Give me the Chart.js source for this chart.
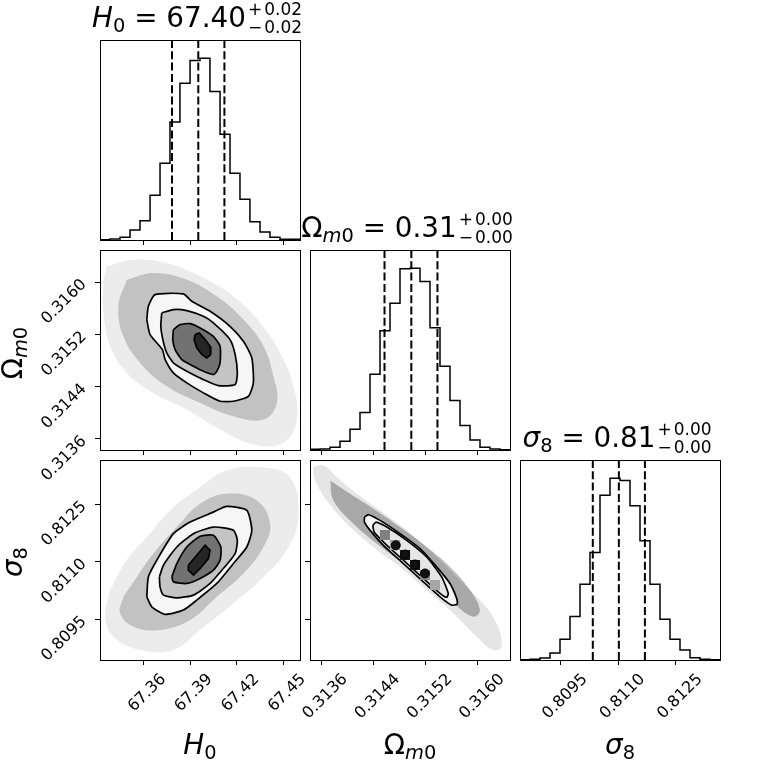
<!DOCTYPE html>
<html>
<head>
<meta charset="utf-8">
<script src="https://cdn.jsdelivr.net/npm/chart.js@4.4.1/dist/chart.umd.min.js"></script>
<style>
  html, body { margin:0; padding:0; background:#fff; }
  #fig { position:relative; width:760px; height:760px; overflow:hidden; background:#fff; }
  .pane { position:absolute; width:290px; height:300px; }
  .txt { position:absolute; font-family:"DejaVu Sans", sans-serif; font-size:27.8px; line-height:1.164; color:#000; white-space:nowrap; text-align:center; width:400px; }
  .txt i { font-style:italic; }
  .sb { font-size:0.7em; vertical-align:-0.28em; }
  .ss { position:relative; display:inline-block; width:62px; height:0; font-size:17px; line-height:1; text-align:left; }
  .ss > span { position:absolute; left:2px; }
  .ss .up { bottom:9px; }
  .ss .dn { bottom:-8.6px; }
  .op { margin-right:2px; }
  .ylab { transform:rotate(-90deg); }
</style>
</head>
<body>
<div id="fig">
  <div class="pane" id="p00"><canvas id="c00" width="290" height="300"></canvas></div>
  <div class="pane" id="p10"><canvas id="c10" width="290" height="300"></canvas></div>
  <div class="pane" id="p11"><canvas id="c11" width="290" height="300"></canvas></div>
  <div class="pane" id="p20"><canvas id="c20" width="290" height="300"></canvas></div>
  <div class="pane" id="p21"><canvas id="c21" width="290" height="300"></canvas></div>
  <div class="pane" id="p22"><canvas id="c22" width="290" height="300"></canvas></div>

  <div class="txt" style="left:0px;top:2.2px"><i>H</i><span class="sb">0</span> = 67.40<span class="ss"><span class="up"><span class="op">+</span>0.02</span><span class="dn"><span class="op">−</span>0.02</span></span></div>
  <div class="txt" style="left:210px;top:212.2px">Ω<span class="sb"><i>m</i>0</span> = 0.31<span class="ss"><span class="up"><span class="op">+</span>0.00</span><span class="dn"><span class="op">−</span>0.00</span></span></div>
  <div class="txt" style="left:420px;top:422.2px"><i>σ</i><span class="sb">8</span> = 0.81<span class="ss"><span class="up"><span class="op">+</span>0.00</span><span class="dn"><span class="op">−</span>0.00</span></span></div>

  <div class="txt" style="left:0px;top:729.2px"><i>H</i><span class="sb">0</span></div>
  <div class="txt" style="left:210px;top:729.2px">Ω<span class="sb"><i>m</i>0</span></div>
  <div class="txt" style="left:420px;top:729.2px"><i>σ</i><span class="sb">8</span></div>

  <div class="txt ylab" style="left:-184.6px;top:334.8px">Ω<span class="sb"><i>m</i>0</span></div>
  <div class="txt ylab" style="left:-184.6px;top:543.8px"><i>σ</i><span class="sb">8</span></div>
</div>

<script>
// ---------------- data ----------------
const H0_RANGE = [67.3321, 67.4607];
const OM_RANGE = [0.31343, 0.31649];
const S8_RANGE = [0.80843, 0.81365];

const H0_TICKS = [67.36, 67.39, 67.42, 67.45];
const H0_TICK_LABELS = ['67.36', '67.39', '67.42', '67.45'];
const OM_TICKS = [0.3136, 0.3144, 0.3152, 0.3160];
const OM_TICK_LABELS = ['0.3136', '0.3144', '0.3152', '0.3160'];
const S8_TICKS = [0.8095, 0.8110, 0.8125];
const S8_TICK_LABELS = ['0.8095', '0.8110', '0.8125'];

const H0_EDGES = [67.3321, 67.3385, 67.3450, 67.3514, 67.3578, 67.3643, 67.3707, 67.3771, 67.3835, 67.3900, 67.3964,
                  67.4028, 67.4093, 67.4157, 67.4221, 67.4285, 67.4350, 67.4414, 67.4478, 67.4543, 67.4607];
const H0_COUNTS = [1, 3, 8, 30, 58, 134, 230, 354, 470, 538, 545, 445, 317, 200, 122, 55, 24, 8, 2, 2];

const OM_EDGES = [0.313430, 0.313583, 0.313736, 0.313889, 0.314042, 0.314195, 0.314348, 0.314501, 0.314654, 0.314807, 0.314960,
                  0.315113, 0.315266, 0.315419, 0.315572, 0.315725, 0.315878, 0.316031, 0.316184, 0.316337, 0.316490];
const OM_COUNTS = [2, 3, 8, 26, 62, 112, 226, 356, 438, 541, 543, 503, 365, 250, 148, 73, 30, 8, 3, 1];

const S8_EDGES = [0.808430, 0.808691, 0.808952, 0.809213, 0.809474, 0.809735, 0.809996, 0.810257, 0.810518, 0.810779, 0.811040,
                  0.811301, 0.811562, 0.811823, 0.812084, 0.812345, 0.812606, 0.812867, 0.813128, 0.813389, 0.813650];
const S8_COUNTS = [1, 2, 6, 21, 62, 130, 226, 321, 492, 543, 536, 461, 356, 226, 122, 62, 30, 7, 2, 1];

const H0_QUANTILES = [67.3784, 67.3953, 67.4121];
const OM_QUANTILES = [0.31457, 0.31498, 0.31538];
const S8_QUANTILES = [0.81033, 0.81101, 0.81169];

// H0 vs Omega_m0 : contours (outer -> inner) and sample-cloud outlines
const HO_C1 = [[67.3622,0.315425],[67.3632,0.315628],[67.3675,0.315807],[67.3857,0.315818],[67.3911,0.315705],[67.4029,0.315552],
  [67.4157,0.315322],[67.4243,0.315093],[67.4297,0.314839],[67.4307,0.314457],[67.4275,0.314252],[67.4179,0.314176],[67.4093,0.314176],
  [67.3986,0.314304],[67.3879,0.314457],[67.3793,0.314610],[67.3740,0.314813],[67.3722,0.314966],[67.3643,0.315195]];
const HO_C2 = [[67.3718,0.315527],[67.3793,0.315578],[67.3879,0.315562],[67.3986,0.315475],[67.4050,0.315374],[67.4157,0.315119],
  [67.4190,0.314890],[67.4204,0.314610],[67.4190,0.314431],[67.4082,0.314416],[67.3986,0.314507],[67.3879,0.314634],[67.3793,0.314763],
  [67.3750,0.314916],[67.3725,0.315119],[67.3712,0.315322]];
const HO_C3 = [[67.3793,0.315272],[67.3836,0.315348],[67.3900,0.315364],[67.3965,0.315298],[67.4050,0.315169],[67.4093,0.315017],
  [67.4093,0.314763],[67.4072,0.314634],[67.4050,0.314584],[67.3986,0.314634],[67.3922,0.314711],[67.3847,0.314813],[67.3804,0.314966],
  [67.3789,0.315119]];
const HO_C4 = [[67.3932,0.315195],[67.3960,0.315221],[67.3997,0.315119],[67.4029,0.315017],[67.4033,0.314890],[67.4008,0.314839],
  [67.3976,0.314890],[67.3943,0.314992],[67.3926,0.315119]];
const HO_CLOUD_OUTER = [[67.3365,0.316240],[67.3536,0.316342],[67.3750,0.316292],[67.3965,0.316087],[67.4179,0.315781],[67.4351,0.315374],
  [67.4479,0.314916],[67.4565,0.314405],[67.4586,0.313896],[67.4500,0.313540],[67.4307,0.313514],[67.4093,0.313743],[67.3879,0.314049],
  [67.3664,0.314304],[67.3493,0.314610],[67.3386,0.315017],[67.3343,0.315527],[67.3343,0.315986]];
const HO_CLOUD_INNER = [[67.3493,0.316036],[67.3664,0.316139],[67.3879,0.316036],[67.4072,0.315781],[67.4243,0.315425],[67.4372,0.315017],
  [67.4436,0.314558],[67.4458,0.314151],[67.4372,0.313896],[67.4179,0.313946],[67.3965,0.314151],[67.3750,0.314405],[67.3579,0.314763],
  [67.3471,0.315169],[67.3439,0.315628]];

// H0 vs sigma_8
const HS_C1 = [[67.3622,0.810079],[67.3632,0.810599],[67.3686,0.811034],[67.3793,0.811728],[67.3900,0.812030],[67.4050,0.812290],
  [67.4136,0.812438],[67.4265,0.812334],[67.4297,0.811814],[67.4265,0.811380],[67.4179,0.810948],[67.4072,0.810428],[67.3943,0.809993],
  [67.3857,0.809733],[67.3740,0.809622],[67.3654,0.809819]];
const HS_C2 = [[67.3703,0.810599],[67.3729,0.810904],[67.3815,0.811380],[67.3922,0.811728],[67.4050,0.811900],[67.4179,0.811814],
  [67.4204,0.811554],[67.4190,0.811208],[67.4114,0.810818],[67.4029,0.810428],[67.3922,0.810124],[67.3815,0.810053],[67.3729,0.810124],
  [67.3707,0.810339]];
const HS_C3 = [[67.3783,0.810599],[67.3815,0.810948],[67.3879,0.811380],[67.3965,0.811658],[67.4050,0.811684],[67.4098,0.811380],
  [67.4093,0.811034],[67.4050,0.810774],[67.3965,0.810558],[67.3879,0.810428],[67.3793,0.810469]];
const HS_C4 = [[67.3889,0.810904],[67.3943,0.811164],[67.3997,0.811424],[67.4029,0.811294],[67.4018,0.811078],[67.3965,0.810818],
  [67.3922,0.810644],[67.3889,0.810774]];
const HS_CLOUD_OUTER = [[67.3386,0.810254],[67.3493,0.811034],[67.3622,0.811640],[67.3793,0.812420],[67.3965,0.812940],[67.4136,0.813375],
  [67.4350,0.813461],[67.4543,0.813200],[67.4597,0.812160],[67.4522,0.811294],[67.4372,0.810599],[67.4179,0.809908],[67.3965,0.809213],
  [67.3793,0.808693],[67.3579,0.808693],[67.3407,0.809039],[67.3354,0.809559]];
const HS_CLOUD_INNER = [[67.3471,0.810079],[67.3558,0.810599],[67.3664,0.811208],[67.3815,0.811900],[67.3965,0.812509],[67.4136,0.812769],
  [67.4329,0.812594],[67.4415,0.811988],[67.4372,0.811380],[67.4243,0.810688],[67.4072,0.810079],[67.3900,0.809473],[67.3707,0.809213],
  [67.3536,0.809299],[67.3450,0.809647]];

// Omega_m0 vs sigma_8
const OS_C1 = [[0.314263,0.812160],[0.314324,0.812222],[0.314502,0.812074],[0.314808,0.811728],[0.315113,0.811338],[0.315368,0.810860],
  [0.315571,0.810428],[0.315674,0.810038],[0.315683,0.809889],[0.315597,0.809863],[0.315419,0.810079],[0.315164,0.810469],
  [0.314858,0.810948],[0.314553,0.811424],[0.314350,0.811814],[0.314263,0.812030]];
const OS_C2 = [[0.314391,0.811944],[0.314441,0.812030],[0.314605,0.811900],[0.314910,0.811554],[0.315215,0.811120],[0.315444,0.810599],
  [0.315545,0.810168],[0.315521,0.810064],[0.315419,0.810168],[0.315164,0.810558],[0.314858,0.811034],[0.314579,0.811468],[0.314411,0.811770]];
const OS_CLOUD_OUTER = [[0.313475,0.813461],[0.313637,0.813505],[0.313841,0.813200],[0.314147,0.812769],[0.314502,0.812334],[0.314910,0.811814],
  [0.315316,0.811208],[0.315674,0.810599],[0.316029,0.809993],[0.316284,0.809387],[0.316361,0.808779],[0.316232,0.808693],[0.315979,0.809039],
  [0.315622,0.809647],[0.315215,0.810254],[0.314808,0.810860],[0.314400,0.811380],[0.313994,0.811988],[0.313688,0.812594],[0.313510,0.813115]];
const OS_CLOUD_INNER = [[0.313739,0.813115],[0.314044,0.812769],[0.314400,0.812379],[0.314808,0.811900],[0.315215,0.811380],[0.315571,0.810860],
  [0.315877,0.810254],[0.316029,0.809733],[0.315927,0.809559],[0.315622,0.809908],[0.315266,0.810428],[0.314858,0.810948],[0.314452,0.811468],
  [0.314095,0.811988],[0.313789,0.812594]];
// 2D-histogram cells inside the inner contour: [Omega centre, sigma8 centre, density 0..1]
const OS_CELLS = [[0.314577,0.811693,0.50],[0.314730,0.811432,0.35],[0.314884,0.811171,0.90],[0.315037,0.810910,0.90],
  [0.315190,0.810649,0.45],[0.315343,0.810388,0.35]];
const OS_PEAKS = [[0.314742,0.811424],[0.314884,0.811182],[0.315037,0.810922],[0.315189,0.810688]];

// ---------------- rendering ----------------
const PANEL_X = [100, 310, 520];
const PANEL_Y = [40, 250, 460];
const PAD = {l:70, r:20, t:25, b:75};
const TICK_FONT = {family:'DejaVu Sans', size:16};
const LEVEL_FILLS = ['#f6f6f6', '#c4c4c4', '#727272', '#262626'];
const CLOUD_FILLS = ['rgba(40,40,40,0.09)', 'rgba(40,40,40,0.21)'];
const NARROW_CLOUD_FILLS = ['rgba(40,40,40,0.12)', 'rgba(40,40,40,0.32)'];

const pts = a => a.map(p => ({x:p[0], y:p[1]}));
const closed = a => pts(a.concat([a[0]]));
const gray = d => { const v = Math.round(255 * (1 - d)); return `rgb(${v},${v},${v})`; };

const framePlugin = {
  id: 'frame',
  afterDatasetsDraw(chart) {
    const a = chart.chartArea, c = chart.ctx;
    c.save();
    c.strokeStyle = '#000';
    c.lineWidth = 1;
    c.strokeRect(a.left + 0.5, a.top + 0.5, a.right - a.left, a.bottom - a.top);
    c.restore();
  }
};

function axisX(range, ticks, labels, showLabels, offset) {
  return {
    type:'linear', position:'bottom', min:range[0], max:range[1],
    afterBuildTicks: s => { s.ticks = ticks.map(v => ({value:v})); },
    afterFit: s => { s.height = PAD.b; },
    grid: {display:true, drawOnChartArea:false, drawTicks:true, tickLength:5, tickColor:'#000', tickWidth:1},
    border: {display:false},
    ticks: {display:showLabels, autoSkip:false, minRotation:45, maxRotation:45, labelOffset:offset, padding:5,
            color:'#000', font:TICK_FONT, callback:(v, i) => labels[i]}
  };
}
function axisY(range, ticks, labels, marks, showLabels) {
  return {
    type:'linear', position:'left', min:range[0], max:range[1],
    afterBuildTicks: s => { s.ticks = ticks.map(v => ({value:v})); },
    afterFit: s => { s.width = PAD.l; },
    grid: {display:marks, drawOnChartArea:false, drawTicks:true, tickLength:5, tickColor:'#000', tickWidth:1},
    border: {display:false},
    ticks: {display:showLabels, autoSkip:false, minRotation:45, maxRotation:45, padding:11,
            color:'#000', font:TICK_FONT, callback:(v, i) => labels[i]}
  };
}

function panel(id, row, col, xAxis, yAxis, datasets) {
  const div = document.getElementById('p' + id);
  div.style.left = (PANEL_X[col] - PAD.l) + 'px';
  div.style.top = (PANEL_Y[row] - PAD.t) + 'px';
  datasets.forEach((d, i) => { d.order = datasets.length - i; });
  new Chart(document.getElementById('c' + id), {
    type: 'line',
    data: {datasets},
    options: {
      responsive:false, animation:false, events:[],
      layout: {padding:{left:0, right:PAD.r, top:PAD.t, bottom:0}},
      plugins: {legend:{display:false}, tooltip:{enabled:false}, title:{display:false}},
      scales: {x:xAxis, y:yAxis},
      elements: {point:{radius:0}}
    },
    plugins: [framePlugin]
  });
}

function histSets(edges, counts, quantiles) {
  const ymax = 1.1 * Math.max(...counts);
  const d = [{x:edges[0], y:0}];
  counts.forEach((c, i) => d.push({x:edges[i], y:c}));
  d.push({x:edges[edges.length - 1], y:counts[counts.length - 1]});
  d.push({x:edges[edges.length - 1], y:0});
  const sets = [{data:d, borderColor:'#000', borderWidth:1.5, stepped:'before', fill:false, pointRadius:0}];
  quantiles.forEach(q => sets.push({data:[{x:q, y:ymax}, {x:q, y:0}], borderColor:'#000', borderWidth:2,
                                   borderDash:[8, 3.3], fill:false, pointRadius:0}));
  return {sets, ymax};
}

function poly(arr, fillColor, lineColor, tension) {
  return {data:closed(arr), fill:'shape', backgroundColor:fillColor,
          borderColor:lineColor || 'rgba(0,0,0,0)', borderWidth:lineColor ? 1.7 : 1,
          tension:tension, pointRadius:0};
}

function cornerSets(cloudOuter, cloudInner, contours, fills, cloudFills) {
  const s = [poly(cloudOuter, cloudFills[0], null, 0.4), poly(cloudInner, cloudFills[1], null, 0.4)];
  contours.forEach((c, i) => s.push(poly(c, fills[i], '#000', i < 3 ? 0.2 : 0)));
  return s;
}

// row 0
const hH0 = histSets(H0_EDGES, H0_COUNTS, H0_QUANTILES);
panel('00', 0, 0, axisX(H0_RANGE, H0_TICKS, H0_TICK_LABELS, false, 20), axisY([0, hH0.ymax], [0], [''], false, false), hH0.sets);

// row 1
panel('10', 1, 0, axisX(H0_RANGE, H0_TICKS, H0_TICK_LABELS, false, 20), axisY(OM_RANGE, OM_TICKS, OM_TICK_LABELS, true, true),
  cornerSets(HO_CLOUD_OUTER, HO_CLOUD_INNER, [HO_C1, HO_C2, HO_C3, HO_C4], LEVEL_FILLS, CLOUD_FILLS));
const hOM = histSets(OM_EDGES, OM_COUNTS, OM_QUANTILES);
panel('11', 1, 1, axisX(OM_RANGE, OM_TICKS, OM_TICK_LABELS, false, 24), axisY([0, hOM.ymax], [0], [''], false, false), hOM.sets);

// row 2
panel('20', 2, 0, axisX(H0_RANGE, H0_TICKS, H0_TICK_LABELS, true, 20), axisY(S8_RANGE, S8_TICKS, S8_TICK_LABELS, true, true),
  cornerSets(HS_CLOUD_OUTER, HS_CLOUD_INNER, [HS_C1, HS_C2, HS_C3, HS_C4], LEVEL_FILLS, CLOUD_FILLS));

const osSets = cornerSets(OS_CLOUD_OUTER, OS_CLOUD_INNER, [OS_C1, OS_C2], ['#f6f6f6', '#e6e6e6'], NARROW_CLOUD_FILLS);
const cellSide = ctx => {
  const xs = ctx.chart.scales.x;
  return Math.abs(xs.getPixelForValue(OM_EDGES[1]) - xs.getPixelForValue(OM_EDGES[0])) / Math.SQRT2;
};
osSets.push({data:pts(OS_CELLS), showLine:false, pointStyle:'rect', pointRadius:cellSide, pointBorderWidth:0,
             pointBackgroundColor:ctx => gray(OS_CELLS[ctx.dataIndex][2]), pointBorderColor:'rgba(0,0,0,0)'});
osSets.push({data:pts(OS_PEAKS), showLine:false, pointStyle:'circle', pointRadius:4.5, pointBorderWidth:1,
             pointBackgroundColor:'#111', pointBorderColor:'#000'});
panel('21', 2, 1, axisX(OM_RANGE, OM_TICKS, OM_TICK_LABELS, true, 24), axisY(S8_RANGE, S8_TICKS, S8_TICK_LABELS, true, false), osSets);

const hS8 = histSets(S8_EDGES, S8_COUNTS, S8_QUANTILES);
panel('22', 2, 2, axisX(S8_RANGE, S8_TICKS, S8_TICK_LABELS, true, 24), axisY([0, hS8.ymax], [0], [''], false, false), hS8.sets);
</script>
</body>
</html>
